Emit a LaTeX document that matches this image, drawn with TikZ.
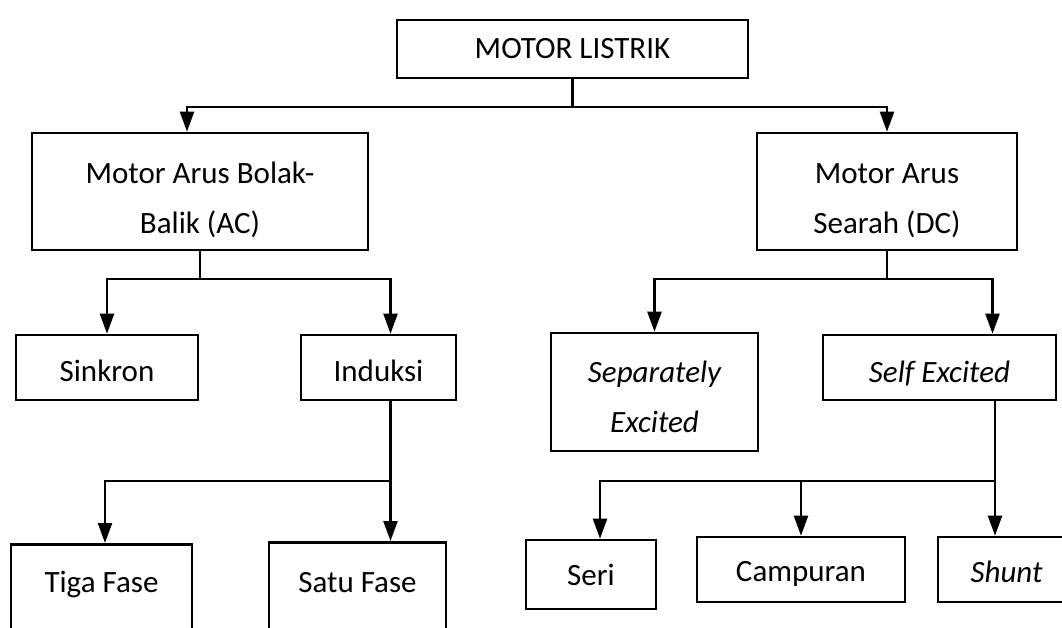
\documentclass[tikz,border=0pt]{standalone}
\usepackage{fontspec}
\setmainfont{Carlito}
\usetikzlibrary{arrows.meta,positioning}

\newcommand{\lift}[1]{\rule{0pt}{#1pt}}

\tikzset{
  box/.style={draw,line width=2.6pt,inner sep=0pt,align=center,font=\fontsize{31}{50}\selectfont},
  link/.style={line width=2.3pt},
  arr/.style={link,-{Triangle[width=14pt,length=20pt]}}
}

\begin{document}
\begin{tikzpicture}[x=1pt,y=-1pt]
\useasboundingbox (0,0) rectangle (1062,628);

% top
\node[box,minimum width=351pt,minimum height=58pt] (root) at (572.5,49) {MOTOR LISTRIK};

\node[box,minimum width=336pt,minimum height=117pt] (ac) at (200,191.5) {\lift{39}Motor Arus Bolak-\\Balik (AC)};
\node[box,minimum width=260pt,minimum height=117pt] (dc) at (887,191.5) {\lift{39}Motor Arus\\Searah (DC)};

% AC branch
\node[box,minimum width=182pt,minimum height=65pt] (sinkron) at (107,367.5) {\lift{29}Sinkron};
\node[box,minimum width=155pt,minimum height=65pt] (induksi) at (378.5,367.5) {\lift{29}Induksi};

\node[box,minimum width=181pt,text height=48pt,text depth=70pt,anchor=north] (tiga) at (101.5,543) {Tiga Fase};
\node[box,minimum width=177pt,text height=50pt,text depth=70pt,anchor=north] (satu) at (357.5,541) {Satu Fase};

% DC branch
\node[box,minimum width=207pt,minimum height=118pt] (sep) at (654.5,392) {\lift{32}\itshape Separately\\\itshape Excited};
\node[box,minimum width=233pt,minimum height=65pt] (self) at (939.5,367.5) {\lift{33}\itshape Self Excited};

\node[box,minimum width=130pt,minimum height=69pt] (seri) at (591,574.5) {Seri};
\node[box,minimum width=208pt,minimum height=65pt] (campuran) at (801,569.5) {\lift{29}Campuran};
\node[box,minimum width=137pt,minimum height=65pt] (shunt) at (1006.5,569.5) {\lift{27}\itshape Shunt};

% junctions
\coordinate (j0) at ([yshift=-28pt]root.south);
\coordinate (j1) at ([yshift=-28pt]ac.south);
\coordinate (j2) at ([yshift=-28pt]dc.south);
\coordinate (j3) at ([xshift=12pt,yshift=-80pt]induksi.south);
\coordinate (j4) at ([xshift=55.5pt,yshift=-80pt]self.south);

\draw[link] (root.south) -- (j0);
\draw[arr] (j0) -| ([xshift=-13pt]ac.north);
\draw[arr] (j0) -| (dc.north);

\draw[link] (ac.south) -- (j1);
\draw[arr] (j1) -| (sinkron.north);
\draw[arr] (j1) -| ([xshift=12pt]induksi.north);

\draw[link] (dc.south) -- (j2);
\draw[arr] (j2) -| (sep.north);
\draw[arr] (j2) -| ([xshift=53pt]self.north);

\draw[link] ([xshift=12pt]induksi.south) -- (j3);
\draw[arr] (j3) -| ([xshift=3.5pt]tiga.north);
\draw[arr] (j3) -| (satu.north -| j3);

\draw[link] ([xshift=55.5pt]self.south) -- (j4);
\draw[arr] (j4) -| ([xshift=9pt]seri.north);
\draw[arr] (j4) -| (campuran.north);
\draw[arr] (j4) -| (shunt.north -| j4);

\end{tikzpicture}
\end{document}
